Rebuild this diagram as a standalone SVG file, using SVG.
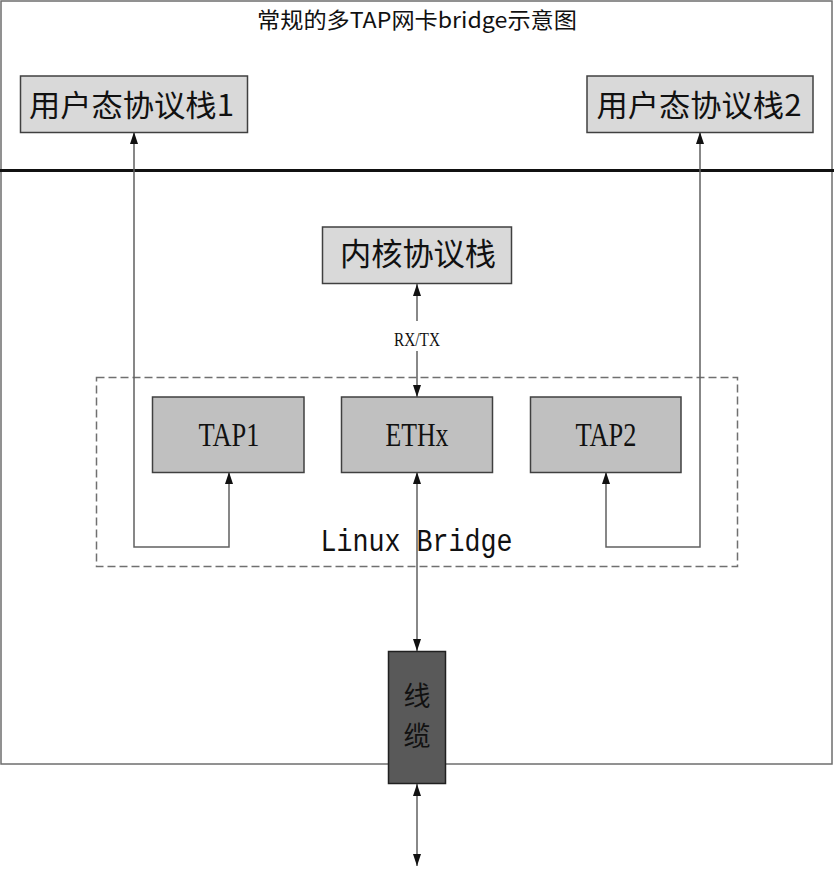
<svg xmlns="http://www.w3.org/2000/svg" width="834" height="869" viewBox="0 0 834 869">
<style>
.frame{fill:none;stroke:#6e6e6e;stroke-width:1.5}
.light{fill:#d9d9d9;stroke:#404040;stroke-width:1.5}
.mid{fill:#c0c0c0;stroke:#404040;stroke-width:1.5}
.dark{fill:#595959;stroke:#202020;stroke-width:1.5}
.conn{fill:none;stroke:#606060;stroke-width:1.5;marker-start:url(#ah);marker-end:url(#ah)}
.cjk{font-family:"Noto Sans CJK SC","Liberation Serif",sans-serif;fill:#111;text-anchor:middle}
.lat{font-family:"Liberation Serif",serif;fill:#111;text-anchor:middle}
</style>
<defs>
<marker id="ah" markerUnits="userSpaceOnUse" markerWidth="12" markerHeight="8" refX="12" refY="4" orient="auto-start-reverse">
<path d="M0,0 L12,4 L0,8 z" fill="#111"/>
</marker>
</defs>
<rect width="834" height="869" fill="#fff"/>
<rect class="frame" x="1" y="1" width="831" height="763"/>
<line x1="0" y1="170.5" x2="834" y2="170.5" stroke="#111" stroke-width="3"/>
<text class="cjk" x="417" y="28" font-size="22" textLength="320" lengthAdjust="spacingAndGlyphs">常规的多TAP网卡bridge示意图</text>

<g id="bridge">
<rect x="96.5" y="377.5" width="641" height="189" fill="none" stroke="#707070" stroke-width="1.5" stroke-dasharray="8,4"/>
<text x="416.5" y="551" font-family="Liberation Mono,monospace" font-size="31" fill="#111" text-anchor="middle" textLength="192" lengthAdjust="spacingAndGlyphs">Linux Bridge</text>
</g>

<g id="connectors">
<path class="conn" d="M134,132 V547 H229 V472"/>
<path class="conn" d="M700,132 V547 H606 V472"/>
<path class="conn" d="M417,284 V397"/>
<rect x="390" y="321" width="54" height="30" fill="#fff"/>
<text class="lat" x="417" y="346" font-size="18" textLength="46" lengthAdjust="spacingAndGlyphs">RX/TX</text>
<path class="conn" d="M417,472 V651"/>
<path class="conn" d="M417,784 V866"/>
</g>

<g id="user1">
<rect class="light" x="20.5" y="76" width="227" height="56.5"/>
<text class="cjk" x="131.5" y="116" font-size="30" textLength="205" lengthAdjust="spacingAndGlyphs">用户态协议栈1</text>
</g>
<g id="user2">
<rect class="light" x="587" y="76" width="226" height="56.5"/>
<text class="cjk" x="699" y="116" font-size="30" textLength="205" lengthAdjust="spacingAndGlyphs">用户态协议栈2</text>
</g>
<g id="kernel">
<rect class="light" x="322.5" y="227" width="189" height="56.5"/>
<text class="cjk" x="418" y="265" font-size="31" textLength="156" lengthAdjust="spacingAndGlyphs">内核协议栈</text>
</g>
<g id="tap1">
<rect class="mid" x="152.5" y="397" width="151.5" height="75.5"/>
<text class="lat" x="229" y="446" font-size="33" textLength="61" lengthAdjust="spacingAndGlyphs">TAP1</text>
</g>
<g id="ethx">
<rect class="mid" x="341.5" y="397" width="151" height="75.5"/>
<text class="lat" x="417" y="446" font-size="33" textLength="63" lengthAdjust="spacingAndGlyphs">ETHx</text>
</g>
<g id="tap2">
<rect class="mid" x="530.5" y="397" width="150.5" height="75.5"/>
<text class="lat" x="606" y="446" font-size="33" textLength="61" lengthAdjust="spacingAndGlyphs">TAP2</text>
</g>
<g id="cable">
<rect class="dark" x="388.5" y="651.5" width="57" height="132"/>
<text class="cjk" x="417" y="706" font-size="27">线</text>
<text class="cjk" x="417" y="746" font-size="27">缆</text>
</g>
</svg>
